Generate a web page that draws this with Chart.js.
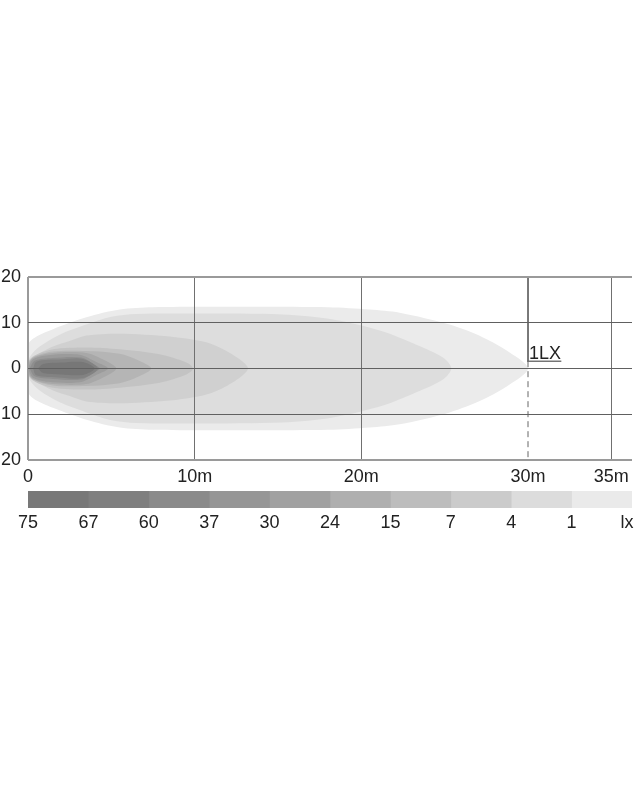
<!DOCTYPE html>
<html>
<head>
<meta charset="utf-8">
<script src="https://cdn.jsdelivr.net/npm/chart.js@4.4.1/dist/chart.umd.min.js"></script>
<style>
  body { margin: 0; background: #fff; }
  #wrap { position: relative; width: 640px; height: 800px; }
  canvas { position: absolute; left: 0; }
  #plot { top: 0; }
  #scale { top: 480px; }
</style>
</head>
<body>
<div id="wrap">
  <canvas id="plot" width="640" height="490"></canvas>
  <canvas id="scale" width="640" height="68"></canvas>
</div>
<script>
// axis ticks
var xTicks = [0, 10, 20, 30, 35];
var yTicks = [-20, -10, 0, 10, 20];

// isolux contours, upper half: [distance m, half width m]
var lux1  = [[-0.3,0],[-0.2,4],[0.3,6.5],[1.5,8.6],[3.5,11.2],[5.5,12.9],[7.5,13.4],[12,13.5],[18,13.4],[20.5,12.9],[22.3,12.2],[25.3,9.6],[27.3,6.8],[28.9,3.5],[30,0]];
var lux4  = [[-0.3,0],[0.2,3],[0.7,4.8],[1.9,7.4],[3.5,9.6],[5,11.3],[6.5,11.9],[10,12],[15.3,11.8],[18.3,10.7],[21.3,8.1],[23.3,5.2],[24.9,2.4],[25.4,0]];
var lux7  = [[-0.3,0],[0.3,2.4],[1.5,4.8],[2.5,6],[3.5,7.2],[5.5,7.6],[8.5,7.0],[10.5,5.9],[11.5,4.6],[12.7,2],[13.2,0]];
var lux15 = [[-0.3,0],[0.3,2.6],[1.5,4.2],[3.5,4.6],[5.5,4.2],[7.9,3.1],[9.5,1.3],[9.9,0]];
var lux24 = [[-0.2,0],[0.3,2.4],[1.5,3.7],[3.5,3.8],[5.5,3.2],[6.6,1.8],[7.4,0]];
var lux30 = [[-0.1,0],[0.3,2.3],[1.5,3.4],[3.5,3.4],[4.6,1.8],[5.3,0]];
var lux37 = [[0,0],[0.3,2],[1.2,2.9],[3.1,3.0],[4.1,1.4],[4.8,0]];
var lux60 = [[0.1,0],[0.4,1.7],[1.5,2.3],[3.2,2.4],[4.0,0.8],[4.3,0]];
var lux67 = [[0.3,0],[0.5,1.5],[2,2],[3.3,2.1],[4.2,0]];
var lux75 = [[0.6,0],[0.9,1],[2,1.3],[3.3,1.4],[4.0,0]];

var contours = [lux1, lux4, lux7, lux15, lux24, lux30, lux37, lux60, lux67, lux75];
var contourColors = ['#ebebeb','#dddddd','#d0d0d0','#c3c3c3','#b5b5b5','#a8a8a8','#9b9b9b','#8e8e8e','#828282','#777777'];

// colour scale
var scaleLabels = ['75','67','60','37','30','24','15','7','4','1','lx'];
var scaleColors = ['#787878','#7f7f7f','#8a8a8a','#969696','#a1a1a1','#afafaf','#bdbdbd','#cbcbcb','#dcdcdc','#eaeaea'];

var FONT = { family: "'Liberation Sans', Arial, sans-serif", size: 18 };

function mirror(half) {
  var top = half.map(function(p) { return { x: p[0], y: p[1] }; });
  var bottom = half.slice(0, -1).reverse().map(function(p) { return { x: p[0], y: -p[1] }; });
  return top.concat(bottom);
}

var datasets = contours.map(function(c, i) {
  return {
    data: mirror(c),
    fill: 'shape',
    backgroundColor: contourColors[i],
    borderWidth: 0,
    borderColor: 'rgba(0,0,0,0)',
    pointRadius: 0,
    tension: 0.3,
    order: 20 - i
  };
});

// 1 lx marker lines
datasets.push({ data: [{x:30,y:20},{x:30,y:1.6}], borderColor: '#666', borderWidth: 1, pointRadius: 0, fill: false, order: 0 });
datasets.push({ data: [{x:30,y:1.6},{x:30,y:-20}], borderColor: '#666', borderWidth: 1, borderDash: [6,4], pointRadius: 0, fill: false, order: 0 });
datasets.push({ data: [{x:29.95,y:1.6},{x:32,y:1.6}], borderColor: '#333', borderWidth: 1, pointRadius: 0, fill: false, order: 0 });

var label1lx = {
  id: 'label1lx',
  afterDraw: function(chart) {
    var c = chart.ctx;
    var x = chart.scales.x.getPixelForValue(30);
    var y = chart.scales.y.getPixelForValue(0);
    c.save();
    c.font = "18px 'Liberation Sans', Arial, sans-serif";
    c.fillStyle = '#222';
    c.textAlign = 'left';
    c.textBaseline = 'alphabetic';
    c.fillText('1LX', x + 1, y - 9.5);
    c.restore();
  }
};

new Chart(document.getElementById('plot'), {
  type: 'line',
  data: { datasets: datasets },
  plugins: [label1lx],
  options: {
    responsive: false,
    animation: false,
    layout: { padding: { top: 277, right: 8, left: 0, bottom: 0 } },
    plugins: { legend: { display: false }, tooltip: { enabled: false } },
    scales: {
      x: {
        type: 'linear', min: 0, max: 36.24,
        afterBuildTicks: function(s) { s.ticks = xTicks.map(function(v) { return { value: v }; }); },
        afterFit: function(s) { s.height = 30; s.paddingLeft = 0; s.paddingRight = 0; },
        ticks: {
          font: FONT, color: '#222', padding: 6, maxRotation: 0, autoSkip: false,
          callback: function(v) { return v === 0 ? '0' : v + 'm'; }
        },
        border: { display: false },
        grid: {
          z: 1, drawTicks: false,
          color: function(ctx) {
            var v = ctx.tick && ctx.tick.value;
            if (v === 30) return 'rgba(0,0,0,0)';
            if (v === 0) return '#9a9a9a';
            return '#707070';
          },
          lineWidth: function(ctx) { return ctx.tick && ctx.tick.value === 0 ? 2 : 1; }
        }
      },
      y: {
        type: 'linear', min: -20, max: 20,
        afterBuildTicks: function(s) { s.ticks = yTicks.map(function(v) { return { value: v }; }); },
        afterFit: function(s) { s.width = 28; },
        ticks: {
          font: FONT, color: '#222', padding: 7,
          callback: function(v) { return String(Math.abs(v)); }
        },
        border: { display: false },
        grid: {
          z: 1, drawTicks: false,
          color: function(ctx) {
            var v = ctx.tick && ctx.tick.value;
            return Math.abs(v) === 20 ? '#9a9a9a' : '#606060';
          },
          lineWidth: function(ctx) { return ctx.tick && Math.abs(ctx.tick.value) === 20 ? 2 : 1; }
        }
      }
    }
  }
});

new Chart(document.getElementById('scale'), {
  type: 'bar',
  data: {
    labels: [''],
    datasets: scaleColors.map(function(col) {
      return { data: [1], backgroundColor: col, borderWidth: 0, barPercentage: 1, categoryPercentage: 1 };
    })
  },
  options: {
    indexAxis: 'y',
    responsive: false,
    animation: false,
    layout: { padding: { top: 11, right: 8, left: 28, bottom: 0 } },
    plugins: { legend: { display: false }, tooltip: { enabled: false } },
    scales: {
      x: {
        type: 'linear', min: 0, max: 10, stacked: true,
        afterFit: function(s) { s.height = 40; s.paddingLeft = 0; s.paddingRight = 0; },
        ticks: {
          stepSize: 1, font: FONT, color: '#222', padding: 4, maxRotation: 0, autoSkip: false,
          callback: function(v) { return v === 10 ? scaleLabels[v] + '  ' : scaleLabels[v]; }
        },
        border: { display: false },
        grid: { display: false, drawTicks: false }
      },
      y: { display: false, stacked: true }
    }
  }
});
</script>
</body>
</html>
